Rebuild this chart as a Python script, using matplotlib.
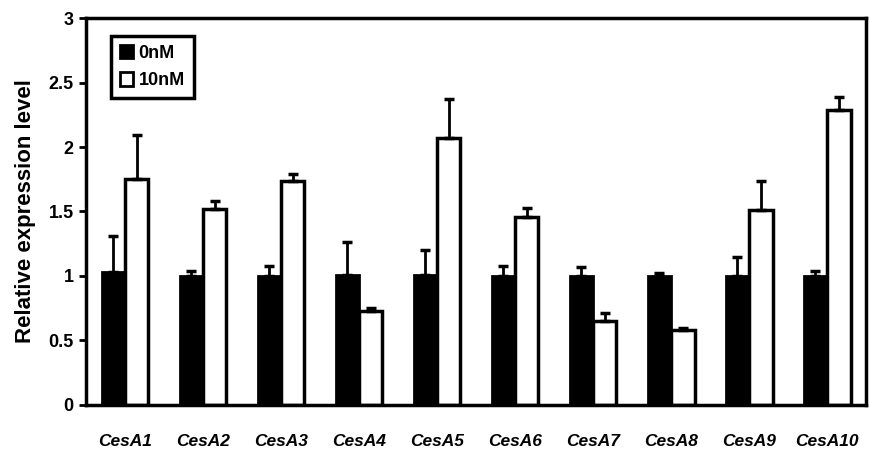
import numpy as np
import matplotlib
matplotlib.use("Agg")
import matplotlib.pyplot as plt

# Data
genes = ["CesA1", "CesA2", "CesA3", "CesA4", "CesA5",
         "CesA6", "CesA7", "CesA8", "CesA9", "CesA10"]
ctrl = [1.03, 1.00, 1.00, 1.01, 1.01, 1.00, 1.00, 1.00, 1.00, 1.00]
ctrl_err = [0.28, 0.04, 0.08, 0.25, 0.19, 0.08, 0.07, 0.02, 0.15, 0.04]
treat = [1.75, 1.52, 1.74, 0.73, 2.07, 1.46, 0.65, 0.58, 1.51, 2.29]
treat_err = [0.34, 0.06, 0.05, 0.02, 0.30, 0.07, 0.06, 0.02, 0.23, 0.10]
series_labels = ["0nM", "10nM"]

plt.rcParams['font.family'] = ['Liberation Sans', 'DejaVu Sans']

fig = plt.figure(figsize=(8.74, 4.57), dpi=100)
ax = fig.add_axes([0.0984, 0.1138, 0.8926, 0.8468])

x = np.arange(len(genes))
w = 0.3
err_kw = dict(elinewidth=2, capsize=3.5, capthick=2.5, ecolor='black')

ax.bar(x - w / 2, ctrl, w, color='black', edgecolor='black', linewidth=2,
       yerr=[np.zeros(len(ctrl)), ctrl_err], error_kw=err_kw,
       label=series_labels[0], zorder=2)
ax.bar(x + w / 2, treat, w, color='white', edgecolor='black', linewidth=2.5,
       yerr=[np.zeros(len(treat)), treat_err], error_kw=err_kw,
       label=series_labels[1], zorder=2)

ax.set_xlim(-0.5, len(genes) - 0.5)
ax.set_ylim(0, 3)
ax.set_yticks(np.arange(0, 3.01, 0.5))
ax.set_yticklabels(["0", "0.5", "1", "1.5", "2", "2.5", "3"],
                   fontsize=13, fontweight='bold')
ax.set_xticks(x)
ax.set_xticklabels(genes, fontsize=12.5, fontstyle='italic',
                   fontweight='bold')
ax.tick_params(axis='x', length=0, pad=21)
ax.tick_params(axis='y', direction='out', length=5, width=2, pad=4)

for s in ax.spines.values():
    s.set_linewidth(2.5)
    s.set_color('black')

ax.set_ylabel("Relative expression level", fontsize=16, fontweight='bold',
              labelpad=9)

leg = ax.legend(loc='upper left', bbox_to_anchor=(0.02, 0.978),
                prop={'weight': 'bold', 'size': 13},
                handlelength=0.75, handleheight=0.75, handletextpad=0.3,
                borderpad=0.5, labelspacing=0.6, fancybox=False,
                framealpha=1, edgecolor='black')
leg.get_frame().set_linewidth(2.5)
for h in leg.legend_handles:
    h.set_linewidth(2)

fig.savefig("out.png", dpi=100)
